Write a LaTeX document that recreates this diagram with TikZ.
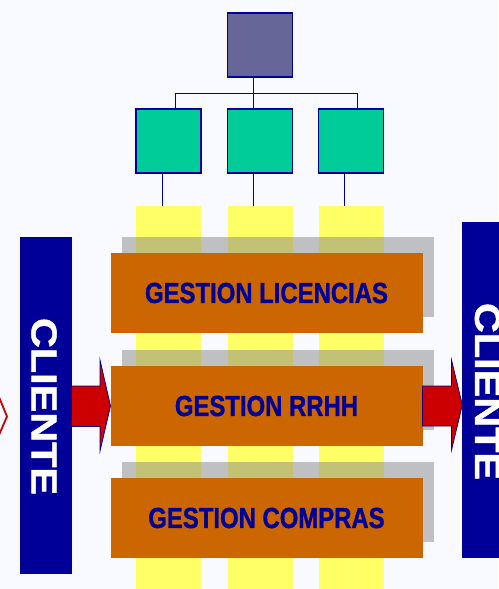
\documentclass[tikz,border=0pt]{standalone}
\usepackage{fontspec}
\setmainfont{Liberation Sans}
\newfontfamily\heavyfont{Liberation Sans}[BoldFeatures={FakeBold=1.3}]
\usepackage{graphicx}
\definecolor{bg}{RGB}{248,250,255}
\definecolor{navy}{RGB}{0,0,153}
\definecolor{topfill}{RGB}{102,102,153}
\definecolor{greenfill}{RGB}{0,204,153}
\definecolor{yel}{RGB}{255,255,102}
\definecolor{orng}{RGB}{204,102,0}
\definecolor{shadowgray}{RGB}{135,135,135}
\definecolor{arrred}{RGB}{204,0,0}
\newcommand{\procname}[1]{\scalebox{0.824}[1]{#1}}
\newcommand{\clientname}{\resizebox{177pt}{25pt}{\heavyfont\bfseries CLIENTE}}
\begin{document}
\begin{tikzpicture}[x=1pt,y=-1pt,
 box/.style={draw=navy,line width=1.3pt,inner sep=0,outer sep=0,minimum width=65pt,minimum height=64pt},
 topbox/.style={box,fill=topfill},
 greenbox/.style={box,fill=greenfill},
 strip/.style={fill=yel,inner sep=0,outer sep=0,minimum width=65pt,minimum height=383pt},
 shadowbox/.style={fill=shadowgray,fill opacity=0.5,inner sep=0,outer sep=0,minimum width=312pt,minimum height=80pt},
 procbox/.style={fill=orng,inner sep=0,outer sep=0,minimum width=312pt,minimum height=80pt,text=navy,font=\fontsize{29}{29}\selectfont\heavyfont\bfseries},
 clientbar/.style={fill=navy,inner sep=0,outer sep=0,minimum width=52pt},
 clientlabel/.style={text=white,rotate=-90,inner sep=0,outer sep=0},
 link/.style={draw=navy,line width=1pt},
 bigarrow/.style={fill=arrred,draw=navy,line width=0.8pt,line join=miter},
 chevron/.style={draw=arrred,line width=1.8pt,line join=miter}]
\fill[bg] (0,0) rectangle (498,589);
\useasboundingbox (0,0) rectangle (498,589);
% yellow strips
\node[strip] (y1) at (168.5,397.5) {};
\node[strip] (y2) at (260.3,397.5) {};
\node[strip] (y3) at (351.3,397.5) {};
% org chart
\node[topbox] (top) at (260,45) {};
\node[greenbox] (g1) at (168.5,141) {};
\node[greenbox] (g2) at (260,141) {};
\node[greenbox] (g3) at (351,141) {};
\draw[link] ([xshift=-6.3pt]top.south) -- ([xshift=-6.3pt]g2.north);
\draw[link] ([xshift=6.5pt]g1.north) -- ++(0,-16) -| ([xshift=6.3pt]g3.north);
\draw[link] ([xshift=-6.3pt]g1.south) -- ([xshift=-6.3pt]g1.south |- y1.north);
\draw[link] ([xshift=-6.3pt]g2.south) -- ([xshift=-6.3pt]g2.south |- y2.north);
\draw[link] ([xshift=-6.3pt]g3.south) -- ([xshift=-6.3pt]g3.south |- y3.north);
% shadows
\node[shadowbox] (s1) at (278,277) {};
\node[shadowbox] (s2) at (278,390) {};
\node[shadowbox] (s3) at (278,502) {};
% process boxes
\node[procbox] (p1) at (266.5,293) {\procname{GESTION LICENCIAS}};
\node[procbox] (p2) at (266.5,406) {\procname{GESTION RRHH}};
\node[procbox] (p3) at (266.5,518) {\procname{GESTION COMPRAS}};
% client bars
\node[clientbar,minimum height=337pt] (cl) at (45.5,405.5) {};
\node[clientlabel] (cltext) at (44,406.5) {\clientname};
\node[clientbar,minimum height=336pt] (cr) at (488.3,390) {};
\node[clientlabel] (crtext) at (487.5,391.5) {\clientname};
% arrows
\draw[bigarrow] (cl.east |- 0,386) -- (100,386) -- (100,360) -- (p2.west) -- (100,451) -- (100,426.5) -- (cl.east |- 0,426.5) -- cycle;
\draw[bigarrow] (p2.east |- 0,386) -- (451.5,386) -- (451.5,360) -- (cr.west |- 0,405) -- (451.5,450) -- (451.5,426) -- (p2.east |- 0,426) -- cycle;
% partial chevron at left edge
\coordinate (chtop) at (-1,397);
\coordinate (chtip) at (7,416.5);
\coordinate (chbot) at (-1,435);
\draw[chevron] (chtop) -- (chtip) -- (chbot);
\end{tikzpicture}
\end{document}
